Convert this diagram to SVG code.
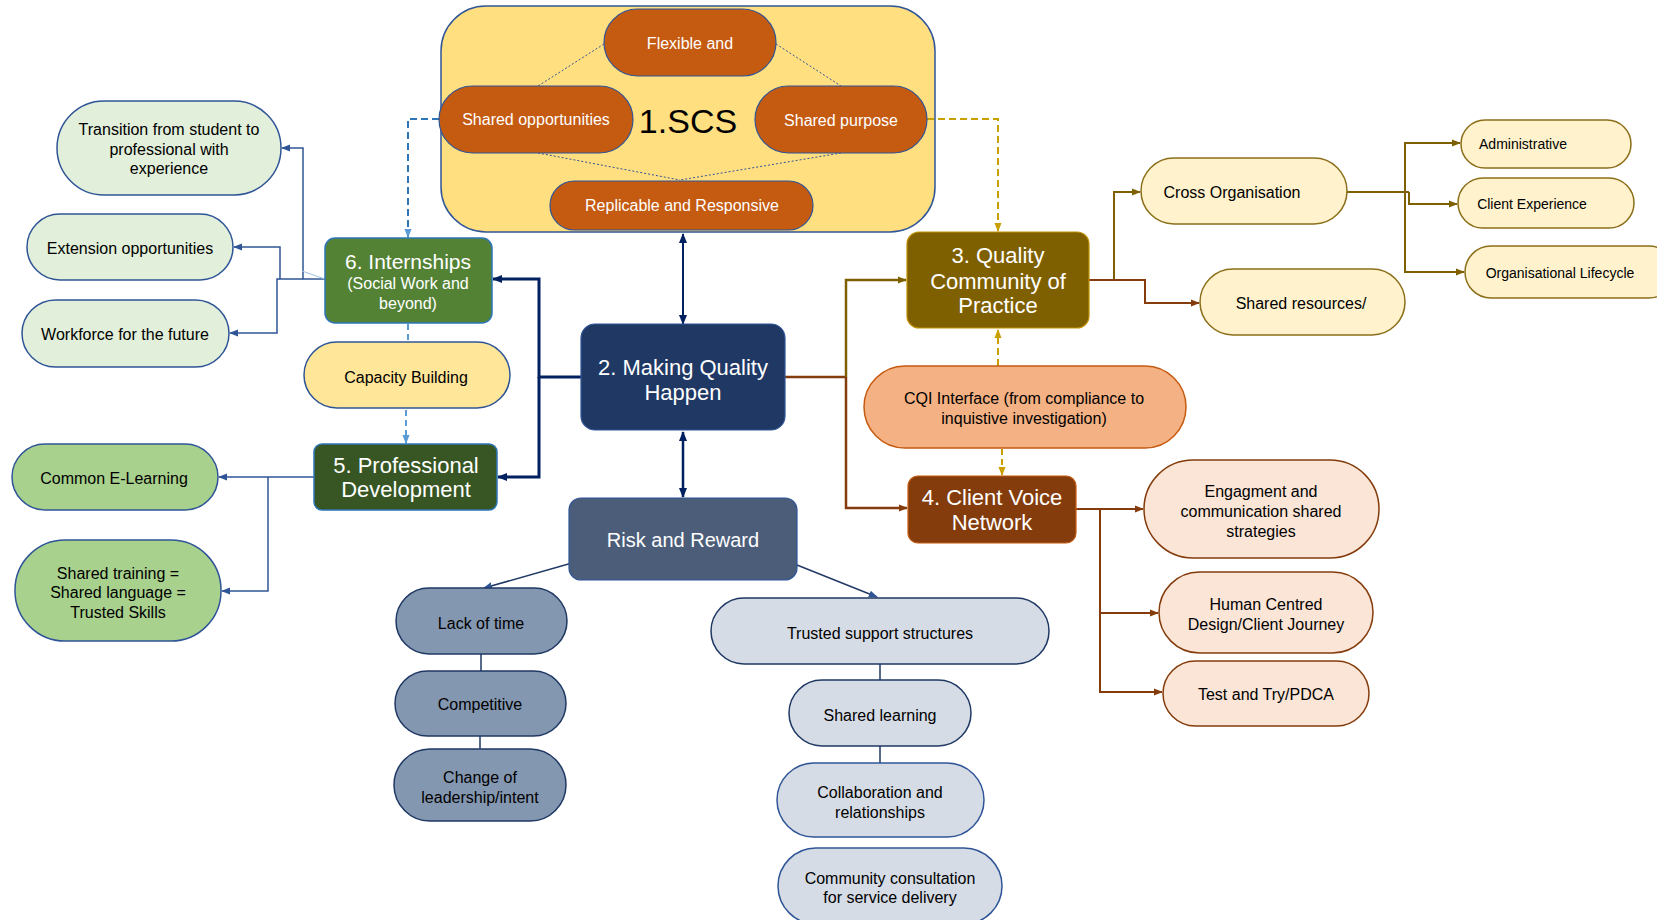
<svg xmlns="http://www.w3.org/2000/svg" width="1657" height="920" viewBox="0 0 1657 920">
<style>
text{font-family:"Liberation Sans",Arial,sans-serif;text-anchor:middle}
.s{font-size:16px;fill:#000}
.xs{font-size:14px;fill:#000}
.w{font-size:16px;fill:#fff}
.b{font-size:22px;fill:#fff}
.c{fill:none}
</style>
<defs>
<marker id="aB" viewBox="0 0 10 10" refX="9" refY="5" markerWidth="9" markerHeight="9" markerUnits="userSpaceOnUse" orient="auto-start-reverse"><path d="M0,1 L10,5 L0,9 z" fill="#2F5597"/></marker>
<marker id="aN" viewBox="0 0 10 10" refX="9" refY="5" markerWidth="10" markerHeight="10" markerUnits="userSpaceOnUse" orient="auto-start-reverse"><path d="M0,1 L10,5 L0,9 z" fill="#002060"/></marker>
<marker id="aO" viewBox="0 0 10 10" refX="9" refY="5" markerWidth="9" markerHeight="9" markerUnits="userSpaceOnUse" orient="auto-start-reverse"><path d="M0,1 L10,5 L0,9 z" fill="#7F6000"/></marker>
<marker id="aR" viewBox="0 0 10 10" refX="9" refY="5" markerWidth="9" markerHeight="9" markerUnits="userSpaceOnUse" orient="auto-start-reverse"><path d="M0,1 L10,5 L0,9 z" fill="#843C0C"/></marker>
<marker id="aG" viewBox="0 0 10 10" refX="9" refY="5" markerWidth="9" markerHeight="9" markerUnits="userSpaceOnUse" orient="auto-start-reverse"><path d="M0,1 L10,5 L0,9 z" fill="#C9A000"/></marker>
<marker id="aL" viewBox="0 0 10 10" refX="9" refY="5" markerWidth="9" markerHeight="9" markerUnits="userSpaceOnUse" orient="auto-start-reverse"><path d="M0,1 L10,5 L0,9 z" fill="#5B9BD5"/></marker>
</defs>

<!-- SCS container -->
<g id="scs">
<rect x="441" y="6" width="494" height="226" rx="45" fill="#FFDF80" stroke="#2F5597" stroke-width="1.5"/>
<text x="688" y="133" style="font-size:34px;fill:#000">1.SCS</text>
</g>

<g id="connectors">
<!-- dotted lines inside SCS -->
<g stroke="#2F5597" stroke-width="1" stroke-dasharray="2 2" class="c">
<path d="M604,44 L538,86"/>
<path d="M776,44 L841,86"/>
<path d="M538,153 L680,180"/>
<path d="M841,153 L680,180"/>
</g>
<!-- SCS <-> MQ, MQ <-> Risk -->
<path d="M683,234 L683,324" stroke="#002060" stroke-width="2" class="c" marker-start="url(#aN)" marker-end="url(#aN)"/>
<path d="M683,432 L683,497" stroke="#002060" stroke-width="2.5" class="c" marker-start="url(#aN)" marker-end="url(#aN)"/>
<!-- MQ left -->
<path d="M581,377 L539,377 L539,279 L493,279" stroke="#002060" stroke-width="3" class="c" marker-end="url(#aN)"/>
<path d="M539,377 L539,477 L498,477" stroke="#002060" stroke-width="3" class="c" marker-end="url(#aN)"/>
<!-- MQ right -->
<path d="M785,377 L846,377" stroke="#843C0C" stroke-width="2.5" class="c"/>
<path d="M846,377 L846,280 L906,280" stroke="#7F6000" stroke-width="2.5" class="c" marker-end="url(#aO)"/>
<path d="M846,377 L846,508 L907,508" stroke="#843C0C" stroke-width="2.5" class="c" marker-end="url(#aR)"/>
<!-- blue dashed SCS -> Internships -> Capacity -> PD -->
<path d="M439,119 L408,119 L408,237" stroke="#2E75B6" stroke-width="2" stroke-dasharray="7 4" class="c" marker-end="url(#aL)"/>
<path d="M408,324 L408,342" stroke="#5B9BD5" stroke-width="2" stroke-dasharray="6 4" class="c"/>
<path d="M406,410 L406,443" stroke="#5B9BD5" stroke-width="2" stroke-dasharray="6 4" class="c" marker-end="url(#aL)"/>
<!-- gold dashed -->
<path d="M927,119 L998,119 L998,231" stroke="#C9A000" stroke-width="2" stroke-dasharray="7 4" class="c" marker-end="url(#aG)"/>
<path d="M998,366 L998,330" stroke="#C9A000" stroke-width="2" stroke-dasharray="7 4" class="c" marker-end="url(#aG)"/>
<path d="M1002,449 L1002,475" stroke="#C9A000" stroke-width="2" stroke-dasharray="6 4" class="c" marker-end="url(#aG)"/>
<!-- Internships children -->
<g stroke="#2F5597" stroke-width="1.5" class="c">
<path d="M325,279 L303,279 L303,148 L282,148" marker-end="url(#aB)"/>
<path d="M303,279 L280,279 L280,247 L234,247" marker-end="url(#aB)"/>
<path d="M280,279 L277,279 L277,333 L230,333" marker-end="url(#aB)"/>
</g>
<path d="M302,271 L325,279" stroke="#9DC3E6" stroke-width="1" class="c"/>
<!-- PD children -->
<g stroke="#2F5597" stroke-width="1.5" class="c">
<path d="M314,477 L219,477" marker-end="url(#aB)"/>
<path d="M268,477 L268,591 L222,591" marker-end="url(#aB)"/>
</g>
<!-- Risk children -->
<g stroke="#1F3864" stroke-width="1.5" class="c">
<path d="M600,555 L484,588" marker-end="url(#aB)"/>
<path d="M767,553 L877,597" marker-end="url(#aB)"/>
<path d="M481,654 L481,671"/>
<path d="M480,736 L480,749"/>
<path d="M880,664 L880,680"/>
<path d="M880,746 L880,763"/>
</g>
<!-- QCP children -->
<path d="M1089,280 L1114,280 L1114,192 L1140,192" stroke="#7F6000" stroke-width="2" class="c" marker-end="url(#aO)"/>
<path d="M1089,280 L1145,280 L1145,303 L1199,303" stroke="#843C0C" stroke-width="2" class="c" marker-end="url(#aR)"/>
<g stroke="#7F6000" stroke-width="2" class="c">
<path d="M1347,192 L1409,192"/>
<path d="M1405,192 L1405,143 L1460,143" marker-end="url(#aO)"/>
<path d="M1409,192 L1409,204 L1457,204" marker-end="url(#aO)"/>
<path d="M1405,192 L1405,272 L1464,272" marker-end="url(#aO)"/>
</g>
<!-- CV children -->
<g stroke="#843C0C" stroke-width="2" class="c">
<path d="M1076,509 L1143,509" marker-end="url(#aR)"/>
<path d="M1100,509 L1100,692 L1162,692" marker-end="url(#aR)"/>
<path d="M1100,613 L1158,613" marker-end="url(#aR)"/>
</g>
</g>

<!-- SCS pills -->
<g id="flexible"><rect x="604" y="9" width="172" height="67" rx="33.5" fill="#C55A11" stroke="#2F5597" stroke-width="1.2"/><text class="w" x="690" y="49">Flexible  and</text></g>
<g id="shared-opp"><rect x="439" y="86" width="194" height="67" rx="33.5" fill="#C55A11" stroke="#2F5597" stroke-width="1.2"/><text class="w" x="536" y="125">Shared opportunities</text></g>
<g id="shared-purpose"><rect x="755" y="86" width="172" height="67" rx="33.5" fill="#C55A11" stroke="#2F5597" stroke-width="1.2"/><text class="w" x="841" y="126">Shared purpose</text></g>
<g id="replicable"><rect x="550" y="181" width="263" height="49" rx="24.5" fill="#C55A11" stroke="#2F5597" stroke-width="1.2"/><text class="w" x="682" y="211">Replicable  and  Responsive</text></g>

<!-- core nodes -->
<g id="making-quality"><rect x="581" y="324" width="204" height="106" rx="14" fill="#203864" stroke="#2F5597" stroke-width="1.2"/><text class="b" x="683" y="375">2. Making Quality</text><text class="b" x="683" y="400">Happen</text></g>
<g id="risk"><rect x="569" y="498" width="228" height="82" rx="12" fill="#4B5D79" stroke="#2F5597" stroke-width="1.2"/><text x="683" y="547" style="font-size:20px;fill:#fff">Risk and Reward</text></g>
<g id="internships"><rect x="325" y="238" width="167" height="85" rx="10" fill="#548235" stroke="#2E75B6" stroke-width="1.5"/><text x="408" y="269" style="font-size:21px;fill:#fff">6. Internships</text><text x="408" y="289" style="font-size:16px;fill:#fff">(Social Work and</text><text x="408" y="309" style="font-size:16px;fill:#fff">beyond)</text></g>
<g id="prof-dev"><rect x="314" y="444" width="183" height="66" rx="8" fill="#375623" stroke="#2E75B6" stroke-width="1.5"/><text class="b" x="406" y="473">5. Professional</text><text class="b" x="406" y="497">Development</text></g>
<g id="qcp"><rect x="907" y="232" width="182" height="96" rx="12" fill="#7F6000" stroke="#BF9000" stroke-width="1.2"/><text class="b" x="998" y="263">3. Quality</text><text class="b" x="998" y="289">Community of</text><text class="b" x="998" y="313">Practice</text></g>
<g id="client-voice"><rect x="908" y="476" width="168" height="67" rx="10" fill="#843C0C" stroke="#C55A11" stroke-width="1.2"/><text class="b" x="992" y="505">4. Client Voice</text><text class="b" x="992" y="530">Network</text></g>
<g id="cqi"><rect x="864" y="366" width="322" height="82" rx="41" fill="#F4B183" stroke="#C55A11" stroke-width="1.5"/><text class="s" x="1024" y="404">CQI Interface (from compliance  to</text><text class="s" x="1024" y="424">inquistive  investigation)</text></g>

<!-- left green nodes -->
<g id="transition"><rect x="57" y="101" width="224" height="94" rx="47" fill="#E2EFDA" stroke="#2F5597" stroke-width="1.5"/><text class="s" x="169" y="135">Transition  from  student  to</text><text class="s" x="169" y="155">professional with</text><text class="s" x="169" y="174">experience</text></g>
<g id="extension"><rect x="27" y="214" width="206" height="66" rx="33" fill="#E2EFDA" stroke="#2F5597" stroke-width="1.5"/><text class="s" x="130" y="254">Extension  opportunities</text></g>
<g id="workforce"><rect x="22" y="300" width="207" height="67" rx="33.5" fill="#E2EFDA" stroke="#2F5597" stroke-width="1.5"/><text class="s" x="125" y="340">Workforce for the  future</text></g>
<g id="capacity"><rect x="304" y="342" width="206" height="66" rx="33" fill="#FFE699" stroke="#2F5597" stroke-width="1.5"/><text class="s" x="406" y="383">Capacity Building</text></g>
<g id="elearning"><rect x="12" y="444" width="206" height="66" rx="33" fill="#A9D18E" stroke="#2F5597" stroke-width="1.5"/><text class="s" x="114" y="484">Common  E-Learning</text></g>
<g id="shared-training"><rect x="15" y="540" width="206" height="101" rx="50" fill="#A9D18E" stroke="#2F5597" stroke-width="1.5"/><text class="s" x="118" y="579">Shared training  =</text><text class="s" x="118" y="598">Shared language  =</text><text class="s" x="118" y="618">Trusted Skills</text></g>

<!-- risk children -->
<g id="lack-time"><rect x="396" y="588" width="171" height="66" rx="33" fill="#8497B0" stroke="#1F3864" stroke-width="1.5"/><text class="s" x="481" y="629">Lack of time</text></g>
<g id="competitive"><rect x="395" y="671" width="171" height="65" rx="32.5" fill="#8497B0" stroke="#1F3864" stroke-width="1.5"/><text class="s" x="480" y="710">Competitive</text></g>
<g id="change-leadership"><rect x="394" y="749" width="172" height="72" rx="36" fill="#8497B0" stroke="#1F3864" stroke-width="1.5"/><text class="s" x="480" y="783">Change  of</text><text class="s" x="480" y="803">leadership/intent</text></g>
<g id="trusted"><rect x="711" y="598" width="338" height="66" rx="33" fill="#D6DCE5" stroke="#1F3864" stroke-width="1.5"/><text class="s" x="880" y="639">Trusted support structures</text></g>
<g id="shared-learning"><rect x="789" y="680" width="182" height="66" rx="33" fill="#D6DCE5" stroke="#1F3864" stroke-width="1.5"/><text class="s" x="880" y="721">Shared learning</text></g>
<g id="collaboration"><rect x="777" y="763" width="207" height="74" rx="37" fill="#D6DCE5" stroke="#2F5597" stroke-width="1.5"/><text class="s" x="880" y="798">Collaboration  and</text><text class="s" x="880" y="818">relationships</text></g>
<g id="community"><rect x="778" y="848" width="224" height="76" rx="38" fill="#D6DCE5" stroke="#2F5597" stroke-width="1.5"/><text class="s" x="890" y="884">Community  consultation</text><text class="s" x="890" y="903">for service delivery</text></g>

<!-- QCP children -->
<g id="cross-org"><rect x="1141" y="158" width="206" height="66" rx="33" fill="#FFF2CC" stroke="#8B6F1A" stroke-width="1.5"/><text class="s" x="1232" y="198">Cross Organisation</text></g>
<g id="shared-resources"><rect x="1200" y="269" width="205" height="66" rx="33" fill="#FFF2CC" stroke="#8B6F1A" stroke-width="1.5"/><text class="s" x="1301" y="309">Shared resources/</text></g>
<g id="administrative"><rect x="1461" y="120" width="170" height="48" rx="24" fill="#FFF2CC" stroke="#8B6F1A" stroke-width="1.5"/><text class="xs" x="1523" y="149">Administrative</text></g>
<g id="client-exp"><rect x="1458" y="178" width="176" height="50" rx="25" fill="#FFF2CC" stroke="#8B6F1A" stroke-width="1.5"/><text class="xs" x="1532" y="209">Client  Experience</text></g>
<g id="org-lifecycle"><rect x="1465" y="246" width="210" height="52" rx="26" fill="#FFF2CC" stroke="#8B6F1A" stroke-width="1.5"/><text class="xs" x="1560" y="278">Organisational  Lifecycle</text></g>

<!-- CV children -->
<g id="engagement"><rect x="1144" y="460" width="235" height="98" rx="49" fill="#FBE5D6" stroke="#843C0C" stroke-width="1.5"/><text class="s" x="1261" y="497">Engagment  and</text><text class="s" x="1261" y="517">communication  shared</text><text class="s" x="1261" y="537">strategies</text></g>
<g id="human-centred"><rect x="1159" y="572" width="214" height="81" rx="40.5" fill="#FBE5D6" stroke="#843C0C" stroke-width="1.5"/><text class="s" x="1266" y="610">Human  Centred</text><text class="s" x="1266" y="630">Design/Client  Journey</text></g>
<g id="test-try"><rect x="1163" y="661" width="206" height="65" rx="32.5" fill="#FBE5D6" stroke="#843C0C" stroke-width="1.5"/><text class="s" x="1266" y="700">Test and Try/PDCA</text></g>
</svg>
